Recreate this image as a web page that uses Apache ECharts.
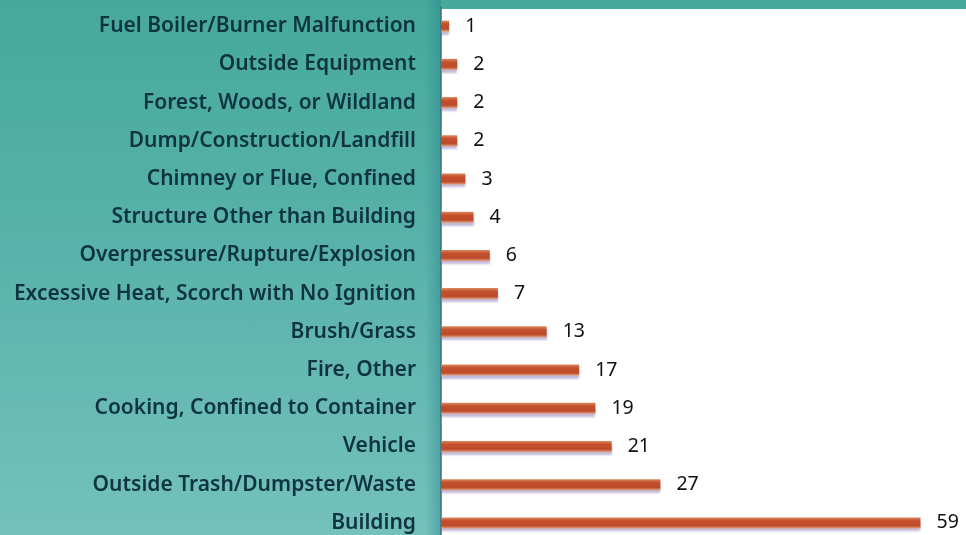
<!DOCTYPE html>
<html>
<head>
<meta charset="utf-8">
<script src="https://cdn.jsdelivr.net/npm/echarts@6/dist/echarts.min.js"></script>
<style>
  html, body { margin:0; padding:0; width:966px; height:535px; overflow:hidden; }
  body { background: linear-gradient(180deg, #45a99b 0%, #58b2a9 45%, #74c1bc 100%); }
  #chart { width:966px; height:535px; }
</style>
</head>
<body>
<div id="chart"></div>
<script>
// incident types, top to bottom as in the picture
const categories = [
  'Fuel Boiler/Burner Malfunction',
  'Outside Equipment',
  'Forest, Woods, or Wildland',
  'Dump/Construction/Landfill',
  'Chimney or Flue, Confined',
  'Structure Other than Building',
  'Overpressure/Rupture/Explosion',
  'Excessive Heat, Scorch with No Ignition',
  'Brush/Grass',
  'Fire, Other',
  'Cooking, Confined to Container',
  'Vehicle',
  'Outside Trash/Dumpster/Waste',
  'Building'
];
const counts = [1, 2, 2, 2, 3, 4, 6, 7, 13, 17, 19, 21, 27, 59];

const chart = echarts.init(document.getElementById('chart'), null, { renderer: 'canvas' });

chart.setOption({
  backgroundColor: 'transparent',
  animation: false,
  graphic: [
    // darker teal strip just left of the axis
    {
      type: 'rect', left: 425, top: 0, z: -11,
      shape: { width: 16, height: 535 },
      style: {
        fill: new echarts.graphic.LinearGradient(0, 0, 1, 0, [
          { offset: 0, color: 'rgba(40,130,140,0)' },
          { offset: 1, color: 'rgba(40,130,140,0.45)' }
        ])
      }
    },
    // white plot panel behind the bars
    {
      type: 'rect', left: 441, top: 9, z: -10,
      shape: { width: 525, height: 526 },
      style: { fill: '#ffffff' }
    }
  ],
  grid: { left: 441, right: 0, top: 7, height: 535, outerBoundsMode: 'none' },
  xAxis: {
    type: 'value', min: 0, max: 64.6,
    show: false
  },
  yAxis: {
    type: 'category', data: categories, inverse: true,
    axisLine: { show: true, lineStyle: { color: '#3f6f72', width: 1.5 } },
    axisTick: { show: false },
    axisLabel: {
      margin: 25,
      color: '#0f3440',
      fontFamily: 'Noto Sans',
      fontWeight: 600,
      fontSize: 21
    }
  },
  series: [{
    type: 'bar',
    data: counts,
    barWidth: 11,
    itemStyle: {
      color: new echarts.graphic.LinearGradient(0, 0, 0, 1, [
        { offset: 0, color: '#dc8a60' },
        { offset: 0.3, color: '#c4502d' },
        { offset: 0.75, color: '#bd4a2a' },
        { offset: 1, color: '#e0a07a' }
      ]),
      shadowColor: 'rgba(120,100,170,0.45)',
      shadowBlur: 2,
      shadowOffsetY: 3
    },
    label: {
      show: true,
      position: 'right',
      distance: 16,
      color: '#111',
      fontFamily: 'Noto Sans',
      fontSize: 19.5
    }
  }]
});
</script>
</body>
</html>
